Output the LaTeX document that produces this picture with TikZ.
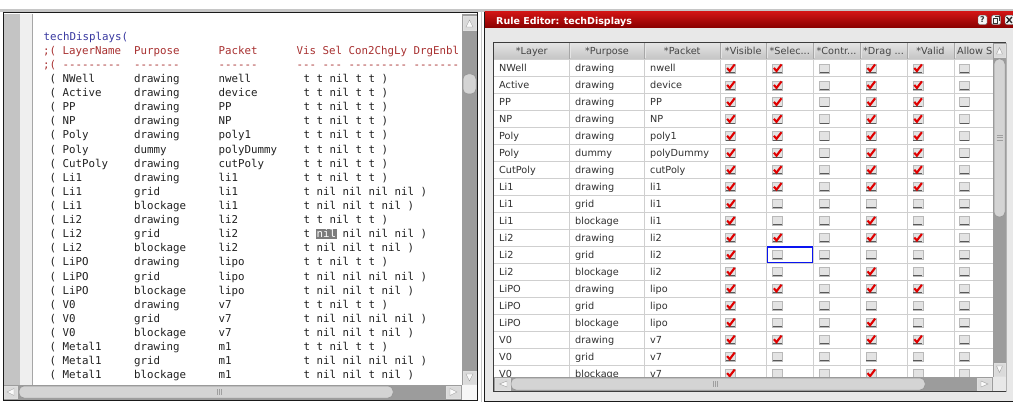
\documentclass[tikz,border=0pt]{standalone}
\usepackage{fontspec}
\setmainfont{DejaVu Sans}
\newfontfamily\codefont{DejaVu Sans Mono}
\definecolor{codetext}{HTML}{202020}
\definecolor{codeblue}{HTML}{3838A0}
\definecolor{codered}{HTML}{A83030}
\definecolor{gutter}{HTML}{C4C4C4}
\definecolor{gutterlt}{HTML}{EFEFEF}
\definecolor{sbtrack}{HTML}{9C9C9C}
\definecolor{sbthumb}{HTML}{D4D4D4}
\definecolor{sbbtn}{HTML}{DADADA}
\definecolor{winedge}{HTML}{1A1A1A}
\definecolor{topline}{HTML}{C6C6C6}
\definecolor{titletop}{HTML}{D01414}
\definecolor{titlebot}{HTML}{880000}
\definecolor{bodybg}{HTML}{E8E8E8}
\definecolor{gridln}{HTML}{CFCFCF}
\definecolor{hdrtop}{HTML}{E4E4E4}
\definecolor{hdrbot}{HTML}{C4C4C4}
\definecolor{celltext}{HTML}{303030}
\definecolor{chkred}{HTML}{E00000}
\definecolor{hlgray}{HTML}{7C7C7C}
\definecolor{selblue}{HTML}{0A14F0}
\newcommand\dashrun[1]{\foreach\n in {1,...,#1}{\mbox{-}}}
\tikzset{
  code/.style={font=\codefont\fontsize{10.8}{13}\selectfont, anchor=base west, inner sep=0pt, text=codetext},
  cell/.style={font=\fontsize{9.7}{11}\selectfont, anchor=base west, inner sep=0pt, text=celltext},
  hdr/.style={font=\fontsize{9.7}{11}\selectfont, anchor=base, inner sep=0pt, text=celltext!90!white},
  sbbutton/.style={fill=sbbtn, draw=white!75!gray, line width=0.5pt},
  sbknob/.style={fill=sbthumb, draw=gray!85, line width=0.5pt, rounded corners=5pt},
  arrowtri/.style={fill=white!96!gray, draw=gray!75, line width=0.4pt},
  grip/.style={draw=gray!75, line width=0.6pt},
  winicon/.style={draw=black!60, fill=white!92!gray, rounded corners=1.5pt, minimum width=9pt, minimum height=9.5pt, inner sep=0pt},
  cbox/.pic={
    \fill[white!89!black] (0,0) rectangle (10,9);
    \draw[gray!55, line width=0.4pt] (0,0) rectangle (10,9);
    \draw[black!65, line width=1pt] (0.4,8.5) -- (9.6,8.5);
    \ifnum#1=1
      \draw[chkred, line width=2.1pt] (1.6,4.2) -- (4.2,7.2) -- (9.2,0.6);
    \fi
  }
}
\begin{document}
\begin{tikzpicture}[x=1pt,y=-1pt]
\useasboundingbox (0,0) rectangle (1013,409);
\fill[white] (0,0) rectangle (1013,409);
\fill[topline] (0,9.5) rectangle (1013,12);

% ================= left window (text editor)
\fill[white] (3,12) rectangle (477.5,400);
\fill[gutter] (3,14) rectangle (20,385);
\fill[gutterlt] (20,14) rectangle (32,385);
\draw[gray!70] (32.5,14) -- (32.5,385);
% vertical scrollbar
\fill[sbtrack] (462,14) rectangle (477,385);
\draw[sbbutton] (463,16) rectangle (476,30);
\draw[arrowtri] (466,27) -- (469.5,20) -- (473,27) -- cycle;
\draw[sbknob] (463,74) rectangle (476,94);
\draw[sbbutton] (463,371) rectangle (476,384);
\draw[arrowtri] (466,374) -- (469.5,381) -- (473,374) -- cycle;
% horizontal scrollbar
\fill[sbtrack] (3,385) rectangle (462,399.5);
\draw[sbbutton] (4,386) rectangle (17,398);
\draw[arrowtri] (14,388.5) -- (7,392) -- (14,395.5) -- cycle;
\draw[sbknob] (19,386) rectangle (393,398);
\draw[grip] (217.5,389) -- (217.5,395) (219.5,389) -- (219.5,395) (221.5,389) -- (221.5,395);
\draw[sbbutton] (446,386) rectangle (460,398);
\draw[arrowtri] (450,388.5) -- (457,392) -- (450,395.5) -- cycle;
\fill[white!94!gray] (462,385) rectangle (477,399.5);
% frame
\draw[winedge, line width=1pt] (3,13) -- (477.5,13) -- (477.5,400) -- (3,400) -- cycle;
\draw[gray!45] (481.5,12) -- (481.5,402);

% code text
\begin{scope}
\clip (33,14) rectangle (462,385);
\node[code, text=codeblue] (ctitle) at (43.5,40.3) {techDisplays(};
\node[code, text=codered] (hsemi) at (43,54.4) {;(};
\node[code, text=codered] (hname) at (62.5,54.4) {LayerName};
\node[code, text=codered] (hpurp) at (134,54.4) {Purpose};
\node[code, text=codered] (hpack) at (218.5,54.4) {Packet};
\node[code, text=codered] (hflags) at (296.5,54.4) {Vis Sel Con2ChgLy DrgEnbl};
\node[code, text=codered] (dsemi) at (43,68.5) {;(};
\node[code, text=codered] (d1) at (62.5,68.5) {\dashrun{9}};
\node[code, text=codered] (d2) at (134,68.5) {\dashrun{7}};
\node[code, text=codered] (d3) at (218.5,68.5) {\dashrun{6}};
\node[code, text=codered] (d4) at (296.5,68.5) {\dashrun{3}};
\node[code, text=codered] (d5) at (322.5,68.5) {\dashrun{3}};
\node[code, text=codered] (d6) at (348.5,68.5) {\dashrun{9}};
\node[code, text=codered] (d7) at (413.5,68.5) {\dashrun{7}};
\foreach \i/\nm/\pu/\pk/\vv in {
  0/NWell/drawing/nwell/{t t nil t t )},
  1/Active/drawing/device/{t t nil t t )},
  2/PP/drawing/PP/{t t nil t t )},
  3/NP/drawing/NP/{t t nil t t )},
  4/Poly/drawing/poly1/{t t nil t t )},
  5/Poly/dummy/polyDummy/{t t nil t t )},
  6/CutPoly/drawing/cutPoly/{t t nil t t )},
  7/Li1/drawing/li1/{t t nil t t )},
  8/Li1/grid/li1/{t nil nil nil nil )},
  9/Li1/blockage/li1/{t nil nil t nil )},
  10/Li2/drawing/li2/{t t nil t t )},
  11/Li2/grid/li2/{t \phantom{nil} nil nil nil )},
  12/Li2/blockage/li2/{t nil nil t nil )},
  13/LiPO/drawing/lipo/{t t nil t t )},
  14/LiPO/grid/lipo/{t nil nil nil nil )},
  15/LiPO/blockage/lipo/{t nil nil t nil )},
  16/V0/drawing/v7/{t t nil t t )},
  17/V0/grid/v7/{t nil nil nil nil )},
  18/V0/blockage/v7/{t nil nil t nil )},
  19/Metal1/drawing/m1/{t t nil t t )},
  20/Metal1/grid/m1/{t nil nil nil nil )},
  21/Metal1/blockage/m1/{t nil nil t nil )}}{
  \pgfmathsetmacro\yy{82.6+14.1*\i}
  \node[code] (lp\i) at (49.5,\yy) {(};
  \node[code] (ln\i) at (62.5,\yy) {\nm};
  \node[code] (lu\i) at (134,\yy) {\pu};
  \node[code] (lk\i) at (218.5,\yy) {\pk};
  \node[code] (lv\i) at (303.5,\yy) {\vv};
}
\node[code, fill=hlgray, text=white, inner xsep=0.6pt, inner ysep=0.8pt, text height=7.4pt, text depth=0.8pt] (hlnil) at (315.9,237.7) {nil};
\end{scope}

% ================= right window (Rule Editor)
\fill[bodybg] (484,12) rectangle (1013,401);
\shade[top color=titletop, bottom color=titlebot] (484.5,12) rectangle (1013,28);
\node[font=\bfseries\fontsize{9.5}{11}\selectfont, text=white, anchor=base west, inner sep=0pt] (wintitle) at (496,24.3) {Rule Editor: techDisplays};
\node[winicon, font=\bfseries\fontsize{8}{8}\selectfont, text=black!80] (ihelp) at (982.5,20) {?};
\node[winicon] (irest) at (996,20) {};
\draw[black!80, line width=0.8pt] (993.5,18.5) rectangle (997.5,23.5);
\draw[black!80, line width=0.8pt] (995,16.5) -- (999,16.5) -- (999,21.5);
\node[winicon] (iclose) at (1009.5,20) {};
\draw[black!85, line width=1.3pt] (1006.5,17) -- (1012,23) (1006.5,23) -- (1012,17);
\draw[winedge, line width=1pt] (484,12) -- (484,401) -- (1013,401);

% table area
\fill[white] (494,43) rectangle (993,377);
\begin{scope}
\clip (494,43) rectangle (993,377);
\shade[top color=hdrtop, bottom color=hdrbot] (494,43) rectangle (993,59.3);
\foreach \x in {569.5,644.5,720,766.5,813,860,907,954}{
  \draw[gray!70] (\x,43) -- (\x,59.3);
  \draw[white!80!gray] (\x+1,44) -- (\x+1,58.3);
  \draw[gridln] (\x,59.3) -- (\x,377);
}
\foreach \i in {0,...,19}{
  \draw[gridln] (494,{59.6+16.95*\i}) -- (993,{59.6+16.95*\i});
}
\node[hdr] (c1) at (531.75,55) {*Layer};
\node[hdr] (c2) at (607,55) {*Purpose};
\node[hdr] (c3) at (682.25,55) {*Packet};
\node[hdr] (c4) at (743.25,55) {*Visible};
\node[hdr] (c5) at (789.75,55) {*Selec...};
\node[hdr] (c6) at (836.5,55) {*Contr...};
\node[hdr] (c7) at (883.5,55) {*Drag ...};
\node[hdr] (c8) at (930.5,55) {*Valid};
\node[hdr, anchor=base west] (c9) at (957,55) {Allow S};
\foreach \i/\nm/\pu/\pk/\pp in {
  0/NWell/drawing/nwell/{1,1,0,1,1,0},
  1/Active/drawing/device/{1,1,0,1,1,0},
  2/PP/drawing/PP/{1,1,0,1,1,0},
  3/NP/drawing/NP/{1,1,0,1,1,0},
  4/Poly/drawing/poly1/{1,1,0,1,1,0},
  5/Poly/dummy/polyDummy/{1,1,0,1,1,0},
  6/CutPoly/drawing/cutPoly/{1,1,0,1,1,0},
  7/Li1/drawing/li1/{1,1,0,1,1,0},
  8/Li1/grid/li1/{1,0,0,0,0,0},
  9/Li1/blockage/li1/{1,0,0,1,0,0},
  10/Li2/drawing/li2/{1,1,0,1,1,0},
  11/Li2/grid/li2/{1,0,0,0,0,0},
  12/Li2/blockage/li2/{1,0,0,1,0,0},
  13/LiPO/drawing/lipo/{1,1,0,1,1,0},
  14/LiPO/grid/lipo/{1,0,0,0,0,0},
  15/LiPO/blockage/lipo/{1,0,0,1,0,0},
  16/V0/drawing/v7/{1,1,0,1,1,0},
  17/V0/grid/v7/{1,0,0,0,0,0},
  18/V0/blockage/v7/{1,0,0,1,0,0}}{
  \pgfmathsetmacro\yy{59.6+16.95*\i}
  \node[cell] (rl\i) at (499,\yy+12.3) {\nm};
  \node[cell] (ru\i) at (575,\yy+12.3) {\pu};
  \node[cell] (rk\i) at (650,\yy+12.3) {\pk};
  \foreach \s [count=\k from 0] in \pp {
    \pic at ({725.5+46.8*\k},\yy+4.2) {cbox=\s};
  }
}
\draw[selblue, line width=1.4pt] (767.6,247) rectangle (812.6,262.6);
\end{scope}
% table scrollbars
\fill[sbtrack] (993,43) rectangle (1006,377);
\draw[sbbutton] (994,44) rectangle (1005,57);
\draw[arrowtri] (996.5,54) -- (999.5,47.5) -- (1002.5,54) -- cycle;
\draw[sbknob] (994,59) rectangle (1005,217);
\draw[grip] (996.5,135) -- (1002.5,135) (996.5,137.5) -- (1002.5,137.5) (996.5,140) -- (1002.5,140);
\draw[sbbutton] (994,363) rectangle (1005,376);
\draw[arrowtri] (996.5,366) -- (999.5,372.5) -- (1002.5,366) -- cycle;
\fill[sbtrack] (494,377) rectangle (993,391);
\draw[sbbutton] (495,378) rectangle (510,390);
\draw[arrowtri] (507,381) -- (499.5,384) -- (507,387) -- cycle;
\draw[sbknob] (511,378) rectangle (925,390);
\draw[grip] (713.5,381) -- (713.5,387) (715.5,381) -- (715.5,387) (717.5,381) -- (717.5,387);
\draw[sbbutton] (977,378) rectangle (991,390);
\draw[arrowtri] (981,381) -- (988,384) -- (981,387) -- cycle;
\fill[bodybg] (993,377) rectangle (1006,391);
\draw[winedge!85, line width=0.8pt] (493.6,391.6) -- (493.6,42.6) -- (1006.4,42.6);
\draw[winedge!85, line width=0.8pt] (493.6,391.6) -- (1006.4,391.6);
\draw[gray!60] (1006.5,43) -- (1006.5,391.6);
\end{tikzpicture}
\end{document}
